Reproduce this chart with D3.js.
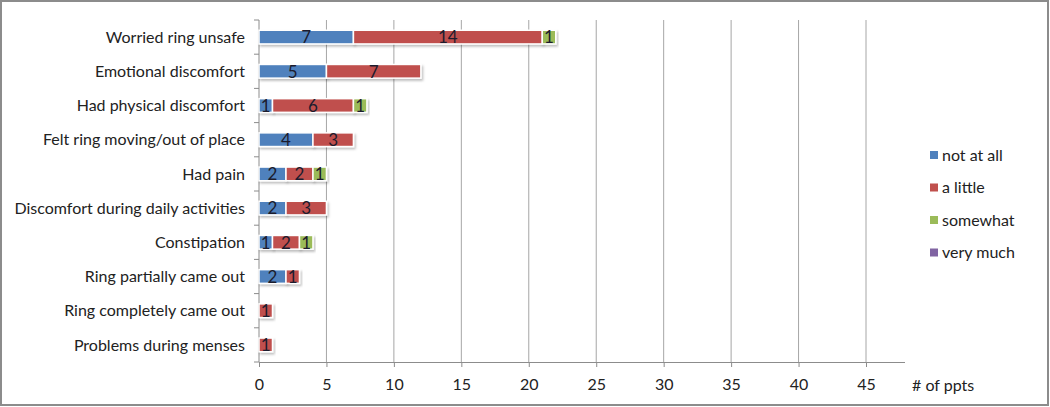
<!DOCTYPE html>
<html>
<head>
<meta charset="utf-8">
<script src="https://cdn.jsdelivr.net/npm/d3@7"></script>
<style>
  body { margin: 0; background: #fff; }
  svg text { font-family: Lato, "Open Sans", sans-serif; fill: #222; }
</style>
</head>
<body>
<svg id="chart" width="1050" height="407"></svg>
<script>
const categories = [
    'Worried ring unsafe',
    'Emotional discomfort',
    'Had physical discomfort',
    'Felt ring moving/out of place',
    'Had pain',
    'Discomfort during daily activities',
    'Constipation',
    'Ring partially came out',
    'Ring completely came out',
    'Problems during menses'
]
const seriesNames = ['not at all', 'a little', 'somewhat', 'very much']
const notAtAll = [7, 5, 1, 4, 2, 2, 1, 2, 0, 0]
const aLittle = [14, 7, 6, 3, 2, 3, 2, 1, 1, 1]
const somewhat = [1, 0, 1, 0, 1, 0, 1, 0, 0, 0]
const veryMuch = [0, 0, 0, 0, 0, 0, 0, 0, 0, 0]
const xTicks = [0, 5, 10, 15, 20, 25, 30, 35, 40, 45]
const colors = ['#4f81bd', '#c0504d', '#9bbb59', '#8064a2']

const svg = d3.select('#chart')

// outer frame
svg.append('rect')
    .attr('x', 1).attr('y', 1)
    .attr('width', 1047).attr('height', 404)
    .attr('fill', 'none')
    .attr('stroke', '#8c8c8c')
    .attr('stroke-width', 2)

const x = d3.scaleLinear().domain([0, 45]).range([259, 866])
const axisEnd = 905
const y = d3.scaleBand().domain(categories).range([20, 362]).paddingInner(0.6).paddingOuter(0.3)
const yBand = d3.scaleBand().domain(categories).range([20, 362])

// gridlines
svg.append('g').selectAll('line')
    .data(xTicks.slice(1))
    .enter().append('line')
    .attr('x1', d => x(d)).attr('x2', d => x(d))
    .attr('y1', 20).attr('y2', 362)
    .attr('stroke', '#a6a6a6')
    .attr('stroke-width', 1)

// y axis line + ticks on band edges
svg.append('line')
    .attr('x1', x(0)).attr('x2', x(0))
    .attr('y1', 20).attr('y2', 362)
    .attr('stroke', '#8c8c8c')
svg.append('g').selectAll('line')
    .data(categories.map(c => yBand(c)).concat([362]))
    .enter().append('line')
    .attr('x1', x(0) - 5).attr('x2', x(0))
    .attr('y1', d => d).attr('y2', d => d)
    .attr('stroke', '#8c8c8c')

// x axis
const xAxis = d3.axisBottom(x).tickValues(xTicks).tickSize(5).tickSizeOuter(0)
const gx = svg.append('g').attr('transform', 'translate(0,362)').call(xAxis)
gx.select('.domain').remove()
gx.selectAll('.tick line').attr('stroke', '#8c8c8c')
gx.selectAll('.tick text').attr('dy', 0).attr('y', 28).style('font-size', '16px')
svg.append('line')
    .attr('x1', x(0)).attr('x2', axisEnd)
    .attr('y1', 362.5).attr('y2', 362.5)
    .attr('stroke', '#8c8c8c')
svg.append('text')
    .attr('x', 912).attr('y', 391)
    .style('font-size', '16px')
    .text('# of ppts')

// category labels
svg.append('g').selectAll('text')
    .data(categories)
    .enter().append('text')
    .attr('x', 245)
    .attr('y', d => yBand(d) + yBand.bandwidth() / 2)
    .attr('dy', '0.35em')
    .attr('text-anchor', 'end')
    .style('font-size', '16px')
    .text(d => d)

// stacked bars
const rows = categories.map((c, i) => ({
    cat: c, 'not at all': notAtAll[i], 'a little': aLittle[i], 'somewhat': somewhat[i], 'very much': veryMuch[i]
}))
const stack = d3.stack().keys(seriesNames)(rows)

const defs = svg.append('defs')
const shadow = defs.append('filter').attr('id', 'shadow').attr('x', '-10%').attr('y', '-30%').attr('width', '130%').attr('height', '180%')
shadow.append('feDropShadow').attr('dx', 1.5).attr('dy', 2).attr('stdDeviation', 1.2).attr('flood-color', '#000').attr('flood-opacity', 0.25)

const layer = svg.append('g').selectAll('g')
    .data(stack)
    .enter().append('g')
    .attr('fill', (d, i) => colors[i])

layer.selectAll('rect')
    .data(d => d.filter(s => s[1] - s[0] > 0))
    .enter().append('rect')
    .attr('x', d => x(d[0]))
    .attr('y', d => y(d.data.cat))
    .attr('width', d => x(d[1]) - x(d[0]))
    .attr('height', y.bandwidth())
    .attr('stroke', '#fff')
    .attr('stroke-width', 1.5)
    .attr('filter', 'url(#shadow)')

layer.selectAll('text')
    .data(d => d.filter(s => s[1] - s[0] > 0))
    .enter().append('text')
    .attr('x', d => (x(d[0]) + x(d[1])) / 2)
    .attr('y', d => y(d.data.cat) + y.bandwidth() / 2)
    .attr('dy', '0.37em')
    .attr('text-anchor', 'middle')
    .style('font-size', '17px')
    .style('fill', '#1c1c2e')
    .text(d => d[1] - d[0])

// legend
const legend = svg.append('g').selectAll('g')
    .data(seriesNames)
    .enter().append('g')
    .attr('transform', (d, i) => 'translate(930,' + (155 + i * 32.5) + ')')
legend.append('rect')
    .attr('x', 0).attr('y', -4)
    .attr('width', 8).attr('height', 8)
    .attr('fill', (d, i) => colors[i])
legend.append('text')
    .attr('x', 12).attr('y', 0)
    .attr('dy', '0.35em')
    .style('font-size', '16px')
    .text(d => d)
</script>
</body>
</html>
